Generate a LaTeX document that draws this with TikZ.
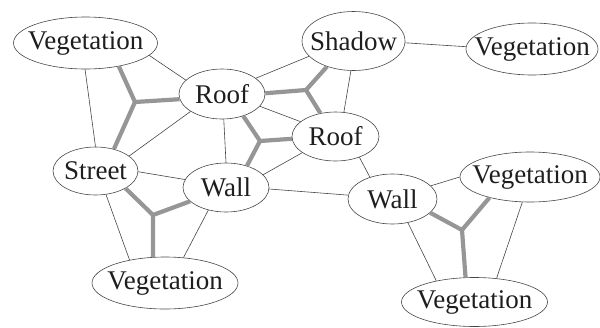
\documentclass[tikz,border=0pt]{standalone}
\usepackage{fontspec}
\setmainfont{Liberation Serif}
\usetikzlibrary{shapes.geometric}
\definecolor{edgecol}{RGB}{70,70,70}
\definecolor{thickcol}{RGB}{150,150,150}
\definecolor{txtcol}{RGB}{30,30,30}
\tikzset{
  region/.style={ellipse, draw=edgecol, line width=0.6pt, inner sep=0pt, text=txtcol,
    font=\fontsize{27}{31}\selectfont,
    execute at begin node={\hbox to 0pt\bgroup\hss},
    execute at end node={\hss\egroup}},
  thin edge/.style={draw=edgecol, line width=0.6pt},
  thick edge/.style={draw=thickcol, line width=4.2pt, line join=round},
}
\begin{document}
\begin{tikzpicture}[x=1pt,y=-1pt]
\useasboundingbox (0,0) rectangle (600,327);
% nodes
\node[region, minimum width=144pt, minimum height=52pt] (veg1) at (85.5,43) {Vegetation};
\node[region, minimum width=86pt, minimum height=50pt] (roof1) at (222,94) {Roof};
\node[region, minimum width=103pt, minimum height=59pt] (shadow) at (353.5,41) {Shadow};
\node[region, minimum width=132pt, minimum height=52pt] (veg2) at (532,49) {Vegetation};
\node[region, minimum width=87pt, minimum height=49pt] (roof2) at (335.5,136.5) {Roof};
\node[region, minimum width=85pt, minimum height=48pt] (street) at (95.5,171) {Street};
\node[region, minimum width=86pt, minimum height=49pt] (wall1) at (226,187.5) {Wall};
\node[region, minimum width=146pt, minimum height=52pt] (veg3) at (165,283) {Vegetation};
\node[region, minimum width=89pt, minimum height=50pt] (wall2) at (392.5,199) {Wall};
\node[region, minimum width=140pt, minimum height=50pt] (veg4) at (530,177) {Vegetation};
\node[region, minimum width=146pt, minimum height=49pt] (veg5) at (474.5,302) {Vegetation};
% junctions
\coordinate (j1) at (135,102);
\coordinate (j2) at (306,90);
\coordinate (j3) at (260,141);
\coordinate (j4) at (153,215);
\coordinate (j5) at (462,230);
% thin edges
\draw[thin edge] (veg1.-11) -- (roof1.159);
\draw[thin edge] (veg1.-91) -- (street.90);
\draw[thin edge] (roof1.-151) -- (street.24);
\draw[thin edge] (roof1.25) -- (shadow.199);
\draw[thin edge] (roof1.-18) -- (roof2.157);
\draw[thin edge] (roof1.-86) -- (wall1.90);
\draw[thin edge] (shadow.-95) -- (roof2.71);
\draw[thin edge] (shadow.-2) -- (veg2.178);
\draw[thin edge] (roof2.-154) -- (wall1.19);
\draw[thin edge] (roof2.-41) -- (wall2.136);
\draw[thin edge] (street.-1) -- (wall1.169);
\draw[thin edge] (street.-66) -- (veg3.147);
\draw[thin edge] (wall1.-128) -- (veg3.54);
\draw[thin edge] (wall1.-2) -- (wall2.175);
\draw[thin edge] (wall2.19) -- (veg4.180);
\draw[thin edge] (wall2.-57) -- (veg5.151);
\draw[thin edge] (veg4.-107) -- (veg5.47);
% thick Y connectors
\draw[thick edge] (veg1.-35) -- (j1) -- (roof1.-173); \draw[thick edge] (j1) -- (street.50);
\draw[thick edge] (roof1.1) -- (j2) -- (shadow.-136); \draw[thick edge] (j2) -- (roof2.123);
\draw[thick edge] (roof1.-46) -- (j3) -- (roof2.-177); \draw[thick edge] (j3) -- (wall1.46);
\draw[thick edge] (street.-30) -- (j4) -- (wall1.-159); \draw[thick edge] (j4) -- (veg3.115);
\draw[thick edge] (wall2.-20) -- (j5) -- (veg4.-153); \draw[thick edge] (j5) -- (veg5.110);
\end{tikzpicture}
\end{document}
